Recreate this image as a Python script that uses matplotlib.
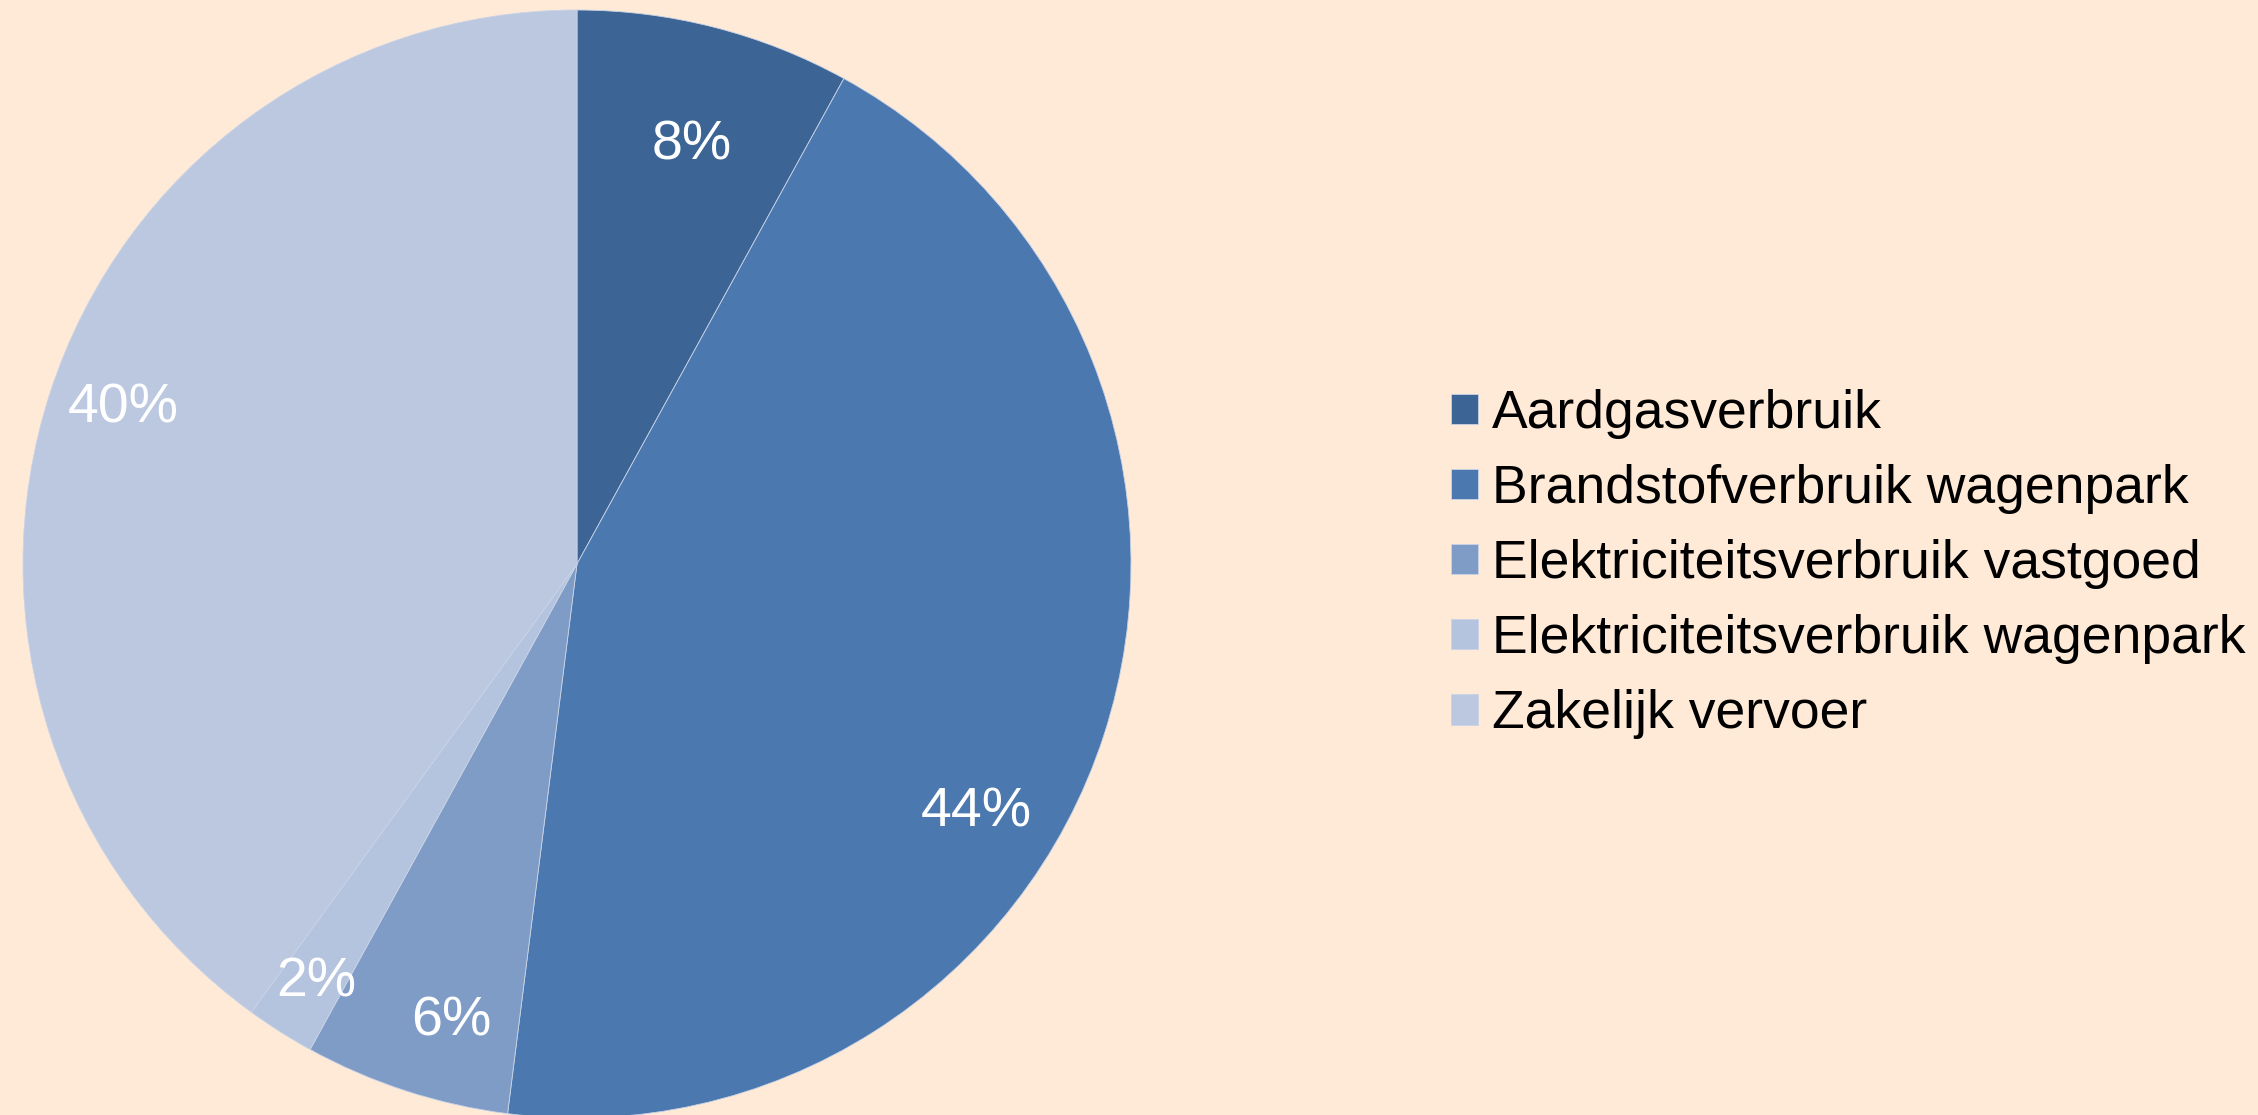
import matplotlib
matplotlib.use("Agg")
import matplotlib.pyplot as plt

categories = ["Aardgasverbruik", "Brandstofverbruik wagenpark",
              "Elektriciteitsverbruik vastgoed", "Elektriciteitsverbruik wagenpark",
              "Zakelijk vervoer"]
values = [8, 44, 6, 2, 40]
value_labels = ["8%", "44%", "6%", "2%", "40%"]
colors = ["#3C6595", "#4A78AF", "#7F9CC7", "#B5C4DE", "#BCC8E0"]
bg = "#FFEAD7"

# label positions in pie data coordinates (radius 1)
label_pos = [(0.208, 0.755), (0.720, -0.448), (-0.226, -0.825), (-0.471, -0.755), (-0.819, 0.280)]

W, H = 2258, 1115
fig = plt.figure(figsize=(W / 100, H / 100), dpi=100, facecolor=bg)

cx, cy, r = 577, 564, 554
ax = fig.add_axes([(cx - r) / W, (H - cy - r) / H, 2 * r / W, 2 * r / H])
ax.set_facecolor(bg)
wedges, _ = ax.pie(values, colors=colors, startangle=90, counterclock=False,
                   radius=1, wedgeprops=dict(linewidth=0.6, edgecolor="#c9d3e6"))
ax.set_xlim(-1, 1)
ax.set_ylim(-1, 1)
ax.set_aspect("equal")
ax.axis("off")

for lab, (x, y) in zip(value_labels, label_pos):
    ax.text(x, y, lab, color="white", fontsize=40, ha="center", va="center",
            family="Liberation Sans")

fs = 38.5
leg = fig.legend(wedges, categories, loc="center left", bbox_to_anchor=(1451 / W, 1 - 564 / H),
                 frameon=False, prop=dict(family="Liberation Sans", size=fs),
                 handlelength=0.5, handleheight=0.5, handletextpad=0.26,
                 labelspacing=0.47, borderpad=0, borderaxespad=0)

fig.savefig("out.png", dpi=100, facecolor=bg)
